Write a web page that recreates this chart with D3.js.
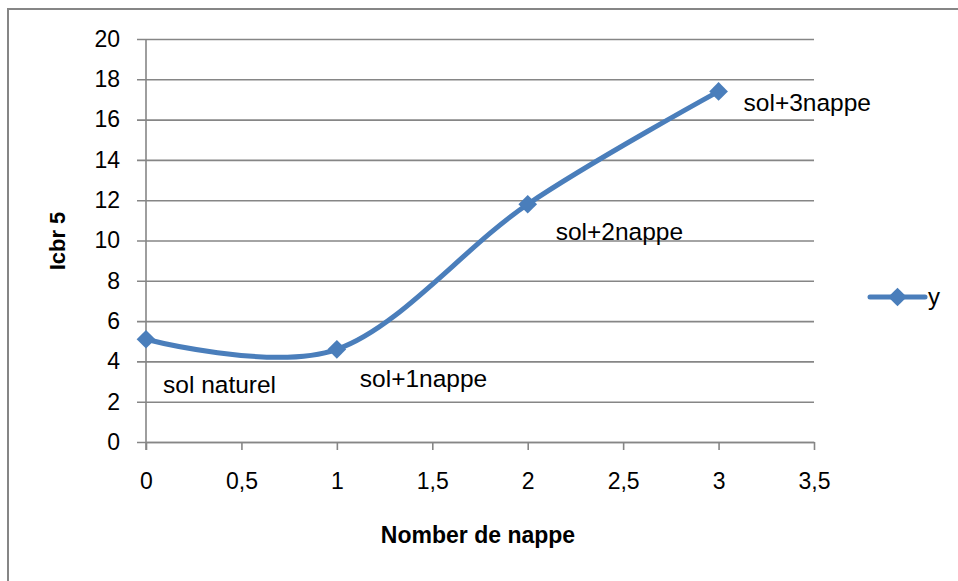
<!DOCTYPE html>
<html>
<head>
<meta charset="utf-8">
<script src="https://cdn.jsdelivr.net/npm/d3@7"></script>
<style>
  html, body { margin: 0; padding: 0; background: #fff; }
  svg { display: block; font-family: "Liberation Sans", Arial, sans-serif; }
</style>
</head>
<body>
<svg id="chart" width="958" height="581"></svg>
<script>
// Number of geotextile layers vs. CBR index
const nappes = [0, 1, 2, 3];
const icbr = [5.1, 4.6, 11.8, 17.4];
const pointLabels = ["sol naturel", "sol+1nappe", "sol+2nappe", "sol+3nappe"];
const seriesName = "y";
const xTicks = [0, 0.5, 1, 1.5, 2, 2.5, 3, 3.5];
const yTicks = [0, 2, 4, 6, 8, 10, 12, 14, 16, 18, 20];

// Label placement relative to each point (px)
const labelOffsets = [[17, 54], [23, 38], [28, 36], [25, 20]];

const svg = d3.select("#chart");
const blue = "#4a7ebb";
const gridColor = "#868686";

const x = d3.scaleLinear().domain([0, 3.5]).range([146, 814]);
const y = d3.scaleLinear().domain([0, 20]).range([442, 39]);

// outer frame
svg.append("path")
  .attr("d", "M8,590 L8,9 L970,9")
  .attr("fill", "none")
  .attr("stroke", gridColor)
  .attr("stroke-width", 2);

// horizontal gridlines with y tick labels
const yAxis = d3.axisLeft(y)
  .tickValues(yTicks)
  .tickSize(-(814 - 137))
  .tickPadding(17)
  .tickFormat(d3.format("d"));

const gy = svg.append("g")
  .attr("transform", "translate(137,0)")
  .call(yAxis);
gy.select(".domain").remove();
gy.selectAll(".tick line")
  .attr("stroke", gridColor)
  .attr("stroke-width", 1.6);
gy.selectAll(".tick text")
  .attr("fill", "#000")
  .attr("font-size", 23)
  .attr("font-family", "Liberation Sans, Arial, sans-serif");

// vertical axis line
svg.append("line")
  .attr("x1", x(0)).attr("x2", x(0))
  .attr("y1", y(20)).attr("y2", y(0) + 8)
  .attr("stroke", gridColor)
  .attr("stroke-width", 1.6);

// x axis
const xAxis = d3.axisBottom(x)
  .tickValues(xTicks)
  .tickSize(8)
  .tickSizeOuter(0)
  .tickPadding(23)
  .tickFormat(d => String(d).replace(".", ","));

const gx = svg.append("g")
  .attr("transform", `translate(0,${y(0)})`)
  .call(xAxis);
gx.select(".domain")
  .attr("stroke", gridColor)
  .attr("stroke-width", 1.6);
gx.selectAll(".tick line")
  .attr("stroke", gridColor)
  .attr("stroke-width", 1.6);
gx.selectAll(".tick text")
  .attr("fill", "#000")
  .attr("font-size", 23)
  .attr("font-family", "Liberation Sans, Arial, sans-serif");

// axis titles
svg.append("text")
  .attr("x", 478).attr("y", 543)
  .attr("text-anchor", "middle")
  .attr("font-size", 23)
  .attr("font-weight", "bold")
  .text("Nomber de nappe");

svg.append("text")
  .attr("transform", "translate(65,241) rotate(-90)")
  .attr("text-anchor", "middle")
  .attr("font-size", 22)
  .attr("font-weight", "bold")
  .text("Icbr 5");

// smoothed series line
const data = nappes.map((n, i) => ({ n, v: icbr[i], label: pointLabels[i] }));
const line = d3.line()
  .x(d => x(d.n))
  .y(d => y(d.v))
  .curve(d3.curveCardinal.tension(0));

svg.append("path")
  .datum(data)
  .attr("d", line)
  .attr("fill", "none")
  .attr("stroke", blue)
  .attr("stroke-width", 5)
  .attr("stroke-linejoin", "round");

// diamond markers
const diamond = d3.symbol().type(d3.symbolSquare).size(175);
svg.selectAll(".marker")
  .data(data)
  .join("path")
  .attr("class", "marker")
  .attr("d", diamond)
  .attr("transform", d => `translate(${x(d.n)},${y(d.v)}) rotate(45)`)
  .attr("fill", blue);

// point labels
svg.selectAll(".plabel")
  .data(data)
  .join("text")
  .attr("class", "plabel")
  .attr("x", (d, i) => x(d.n) + labelOffsets[i][0])
  .attr("y", (d, i) => y(d.v) + labelOffsets[i][1])
  .attr("font-size", 24.5)
  .attr("fill", "#000")
  .text(d => d.label);

// legend
const legend = svg.append("g").attr("transform", "translate(870,297)");
legend.append("line")
  .attr("x1", 0).attr("x2", 55)
  .attr("y1", 0).attr("y2", 0)
  .attr("stroke", blue)
  .attr("stroke-width", 5)
  .attr("stroke-linecap", "round");
legend.append("path")
  .attr("d", diamond)
  .attr("transform", "translate(27.5,0) rotate(45)")
  .attr("fill", blue);
legend.append("text")
  .attr("x", 58).attr("y", 8)
  .attr("font-size", 24)
  .attr("fill", "#000")
  .text(seriesName);
</script>
</body>
</html>
